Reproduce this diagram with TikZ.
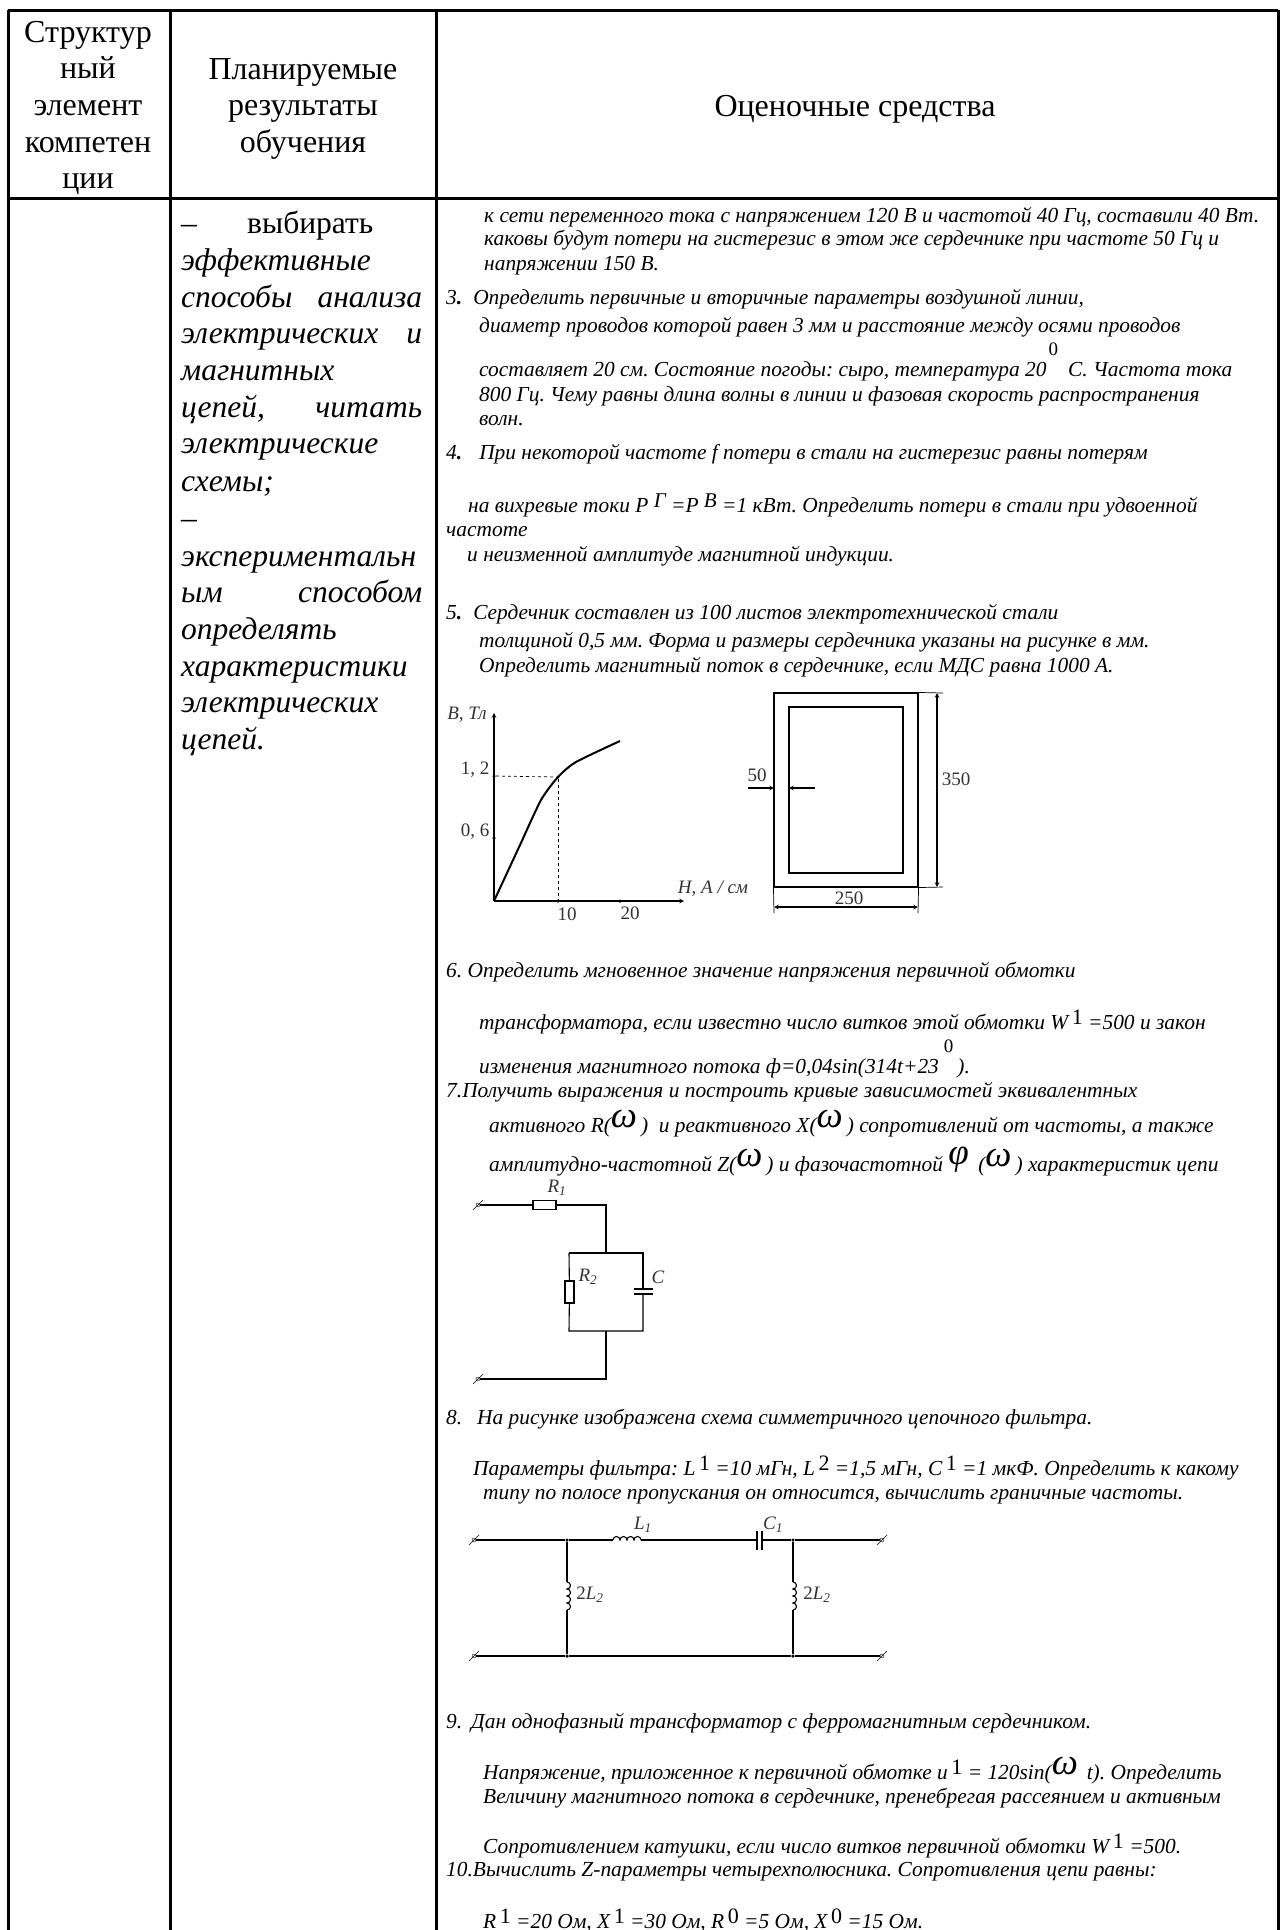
\documentclass[tikz,border=0pt]{standalone}
\usepackage{fontspec}
\setmainfont{Liberation Serif}
\usetikzlibrary{positioning}

\newcommand{\upidx}[1]{\raisebox{5pt}{\fontsize{22}{22}\selectfont\upshape #1}}
\newcommand{\itidx}[1]{\raisebox{5pt}{\fontsize{21}{22}\selectfont #1}}
\newcommand{\hiidx}[1]{\raisebox{21pt}{\fontsize{19}{19}\selectfont\upshape #1}}
\newcommand{\omg}{\raisebox{5pt}{\fontsize{37}{37}\selectfont ω}}
\newcommand{\fii}{\raisebox{7pt}{\fontsize{37}{37}\selectfont φ}}
\newcommand{\just}[2]{\hbox to 241pt{#1\hfill #2}}

\begin{document}
\frenchspacing
\begin{tikzpicture}[%
    x=1pt,
    y=1pt,
    >=stealth,
    rule/.style={line width=3pt},
    wire/.style={line width=1.1pt},
    thinw/.style={line width=0.7pt},
    bw/.style={anchor=base west},
    head/.style={anchor=base,inner sep=0pt,font=\fontsize{32}{32}\selectfont},
    skill/.style={bw,inner sep=0pt,font=\fontsize{31.5}{32}\selectfont\itshape},
    task/.style={bw,inner sep=0pt,font=\fontsize{21.4}{22}\selectfont\itshape},
    lab/.style={inner sep=0pt,text=black!80,font=\fontsize{19}{20}\selectfont},
    dot/.style={circle,fill,inner sep=0pt,minimum size=3.5pt},
    term/.style={circle,draw,thin,inner sep=0pt,minimum size=4pt},
    res/.style={rectangle,draw,line width=1.1pt,fill=white,inner sep=0pt}
  ]
    \useasboundingbox (0,0) rectangle (1280,-1930);
    \fill[white] (0,0) rectangle (1280,-1930);

    \coordinate (tl) at (8,-10);
    \coordinate (tc1) at (170,-10);
    \coordinate (tc2) at (436,-10);
    \coordinate (tr) at (1278,-10);
    \coordinate (ml) at (8,-198);
    \coordinate (mr) at (1278,-198);
    \coordinate (bl) at (8,-1930);
    \coordinate (bc1) at (170,-1930);
    \coordinate (bc2) at (436,-1930);
    \coordinate (br) at (1278,-1930);
    \draw[rule] (tl) -- (tr);
    \draw[rule] (ml) -- (mr);
    \draw[rule] (tl) -- (bl);
    \draw[rule] (tc1) -- (bc1);
    \draw[rule] (tc2) -- (bc2);
    \draw[rule] (tr) -- (br);

    \node[head] (h1) at (88,-42)            {Структур};
    \node[head] (h2) [below=36.7pt of h1.base,anchor=base] {ный};
    \node[head] (h3) [below=36.7pt of h2.base,anchor=base] {элемент};
    \node[head] (h4) [below=36.7pt of h3.base,anchor=base] {компетен};
    \node[head] (h5) [below=36.7pt of h4.base,anchor=base] {ции};
    \node[head] (p1) at (303,-79)           {Планируемые};
    \node[head] (p2) [below=36.7pt of p1.base,anchor=base] {результаты};
    \node[head] (p3) [below=36.7pt of p2.base,anchor=base] {обучения};
    \node[head] (o1) at (855,-116)          {Оценочные средства};

    \node[skill] (s1) at (181,-233)         {\just{\upshape –}{выбирать\hspace{49pt}}};
    \node[skill] (s2) [below=37pt of s1.base west,bw]  {эффективные};
    \node[skill] (s3) [below=37pt of s2.base west,bw]  {\just{способы}{анализа}};
    \node[skill] (s4) [below=36pt of s3.base west,bw]  {\just{электрических}{и}};
    \node[skill] (s5) [below=37pt of s4.base west,bw]  {магнитных};
    \node[skill] (s6) [below=37pt of s5.base west,bw]  {\just{цепей,}{читать}};
    \node[skill] (s7) [below=36pt of s6.base west,bw]  {электрические};
    \node[skill] (s8) [below=38pt of s7.base west,bw]  {схемы;};
    \node[skill] (s9) [below=37pt of s8.base west,bw]  {\upshape –};
    \node[skill] (s10) [below=38pt of s9.base west,bw] {экспериментальн};
    \node[skill] (s11) [below=36pt of s10.base west,bw] {\just{ым}{способом}};
    \node[skill] (s12) [below=37pt of s11.base west,bw] {определять};
    \node[skill] (s13) [below=37pt of s12.base west,bw] {характеристики};
    \node[skill] (s14) [below=36pt of s13.base west,bw] {электрических};
    \node[skill] (s15) [below=37pt of s14.base west,bw] {цепей.};

    \node[task] (a1) at (484,-222)          {к сети переменного тока с напряжением 120 В и частотой 40 Гц, составили 40 Вт.};
    \node[task] (a2) [below=23pt of a1.base west,bw]  {каковы будут потери на гистерезис в этом же сердечнике при частоте 50 Гц и};
    \node[task] (a3) [below=25pt of a2.base west,bw]  {напряжении 150 В.};
    \node[task] (b1) at (446,-304)          {3\textbf{.}\hspace{11pt}Определить первичные и вторичные параметры воздушной линии,};
    \node[task] (b2) [below right=28pt and 33pt of b1.base west,bw] {диаметр проводов которой равен 3 мм и расстояние между осями проводов};
    \node[task] (b3) [below=44pt of b2.base west,bw]  {составляет 20 см. Состояние погоды: сыро, температура 20\hspace{2pt}\hiidx{0}\hspace{10pt}С. Частота тока};
    \node[task] (b4) [below=25pt of b3.base west,bw]  {800 Гц. Чему равны длина волны в линии и фазовая скорость распространения};
    \node[task] (b5) [below=24pt of b4.base west,bw]  {волн.};
    \node[task] (c1) at (446,-459)          {4\textbf{.}\hspace{17pt}При некоторой частоте f потери в стали на гистерезис равны потерям};
    \node[task] (c2) [below right=53pt and 22pt of c1.base west,bw] {на вихревые токи P \itidx{Г} =P \itidx{В} =1 кВт. Определить потери в стали при удвоенной};
    \node[task] (c3) [below=24pt of c1.base west,yshift=-53pt,bw] {частоте};
    \node[task] (c4) [below right=49pt and 21pt of c2.base west,xshift=-22pt,bw] {и неизменной амплитуде магнитной индукции.};
    \node[task] (d1) at (446,-619)          {5\textbf{.}\hspace{11pt}Сердечник составлен из 100 листов электротехнической стали};
    \node[task] (d2) [below right=28pt and 33pt of d1.base west,bw] {толщиной 0,5 мм. Форма и размеры сердечника указаны на рисунке в мм.};
    \node[task] (d3) [below=25pt of d2.base west,bw]  {Определить магнитный поток в сердечнике, если МДС равна 1000 А.};

    \coordinate (or) at (494,-901);
    \coordinate (ytop) at (494,-713);
    \coordinate (xend) at (684,-901);
    \node[dot] (t12) at (494,-776) {};
    \node[dot] (t06) at (494,-838) {};
    \node[dot] (t10) at (558,-901) {};
    \node[dot] (t20) at (620,-901) {};
    \node[dot,minimum size=3pt] (pk) at (558,-777) {};
    \coordinate (cv1) at (520,-845);
    \coordinate (cv2) at (541,-800);
    \coordinate (cv3) at (576,-762);
    \coordinate (cv4) at (620,-741);
    \draw[wire,->] (or) -- (ytop);
    \draw[wire,->] (or) -- (xend);
    \draw[thinw,dashed] (t12) -- (pk);
    \draw[thinw,dashed] (pk) -- (t10);
    \draw[line width=2pt] plot[smooth,tension=0.4] coordinates {(or) (cv1) (cv2) (pk) (cv3) (cv4)};
    \node[lab] (lb) at (467,-715)  {\itshape B, Тл};
    \node[lab] (lv12) at (475,-770) {1, 2};
    \node[lab] (lv06) at (475,-832) {0, 6};
    \node[lab] (lh) at (713,-889)  {\itshape H, A / см};
    \node[lab] (lv10) at (567,-914) {10};
    \node[lab] (lv20) at (630,-913) {20};

    \node[draw,wire,inner sep=0pt,minimum width=144pt,minimum height=194pt] (core) at (846,-790) {};
    \node[draw,wire,inner sep=0pt,minimum width=114pt,minimum height=166pt] (wind) at (846,-790) {};
    \coordinate (e1) at (943,-693);
    \coordinate (e2) at (943,-887);
    \coordinate (e3) at (774,-913);
    \coordinate (e4) at (918,-913);
    \coordinate (d350a) at (937,-693);
    \coordinate (d350b) at (937,-887);
    \coordinate (d250a) at (774,-907);
    \coordinate (d250b) at (918,-907);
    \coordinate (d50a) at (748,-788);
    \coordinate (d50b) at (774,-788);
    \coordinate (d50c) at (815,-788);
    \coordinate (d50d) at (789,-788);
    \draw[thinw] (core.north east) -- (e1);
    \draw[thinw] (core.south east) -- (e2);
    \draw[thinw] (core.south west) -- (e3);
    \draw[thinw] (core.south east) -- (e4);
    \draw[wire,<->] (d350a) -- (d350b);
    \draw[wire,<->] (d250a) -- (d250b);
    \draw[wire,->] (d50a) -- (d50b);
    \draw[wire,->] (d50c) -- (d50d);
    \node[lab] (l350) at (956,-779) {350};
    \node[lab] (l250) at (849,-898) {250};
    \node[lab] (l50) at (757,-775) {50};

    \node[task] (e1t) at (446,-977)         {6. Определить мгновенное значение напряжения первичной обмотки};
    \node[task] (e2t) [below right=52pt and 33pt of e1t.base west,bw] {трансформатора, если известно число витков этой обмотки W\,\upidx{1} =500 и закон};
    \node[task] (e3t) [below=44pt of e2t.base west,bw] {изменения магнитного потока ф=0,04sin(314t+23\hspace{5pt}\hiidx{0}\hspace{4pt}).};
    \node[task] (f1) at (446,-1097)         {7.Получить выражения и построить кривые зависимостей эквивалентных};
    \node[task] (f2) [below right=35pt and 43pt of f1.base west,bw] {активного R(\omg\hspace{4pt})\ \ и реактивного X(\omg\hspace{4pt}) сопротивлений от частоты, а также};
    \node[task] (f3) [below=39pt of f2.base west,bw] {амплитудно-частотной Z(\omg\hspace{4pt}) и фазочастотной \fii\hspace{4pt} (\omg\hspace{4pt}) характеристик цепи};

    \node[term] (ta) at (478,-1205) {};
    \node[term] (tb) at (478,-1379) {};
    \node[res,minimum width=23pt,minimum height=9pt] (r1) at (544.5,-1205) {};
    \coordinate (ca) at (606,-1205);
    \coordinate (cb) at (606,-1253);
    \coordinate (cc) at (569,-1253);
    \coordinate (cd) at (643,-1253);
    \coordinate (ce) at (569,-1331);
    \coordinate (cf) at (643,-1331);
    \coordinate (cg) at (606,-1331);
    \coordinate (ch) at (606,-1379);
    \node[res,minimum width=9pt,minimum height=22pt] (r2) at (569.5,-1292) {};
    \coordinate (cp1) at (643,-1289);
    \coordinate (cp2) at (643,-1294);
    \coordinate (cp1a) at (634,-1289);
    \coordinate (cp1b) at (653,-1289);
    \coordinate (cp2a) at (634,-1294);
    \coordinate (cp2b) at (653,-1294);
    \draw[wire] (ta) -- (r1);
    \draw[wire] (r1) -- (ca) -- (cb);
    \draw[wire] (cc) -- (cd) -- (cp1);
    \draw[wire] (cp2) -- (cf) -- (ce) -- (r2);
    \draw[wire] (r2) -- (cc);
    \draw[wire] (cg) -- (ch) -- (tb);
    \draw[wire] (cp1a) -- (cp1b);
    \draw[wire] (cp2a) -- (cp2b);
    \node[lab] (lr1) at (557,-1188) {\itshape R\textsubscript{1}};
    \node[lab] (lr2) at (588,-1277) {\itshape R\textsubscript{2}};
    \node[lab] (lc) at (658,-1277) {\itshape C};

    \node[task] (g1) at (446,-1424)         {8.\hspace{15pt}На рисунке изображена схема симметричного цепочного фильтра.};
    \node[task] (g2) [below right=51pt and 27pt of g1.base west,bw] {Параметры фильтра: L\,\upidx{1} =10 мГн, L\,\upidx{2} =1,5 мГн, C\,\upidx{1} =1 мкФ. Определить к какому};
    \node[task] (g3) [below right=24pt and 10pt of g2.base west,bw] {типу по полосе пропускания он относится, вычислить граничные частоты.};

    \node[term] (ua) at (474,-1540) {};
    \node[term] (ub) at (882,-1540) {};
    \node[term] (uc) at (474,-1656) {};
    \node[term] (ud) at (882,-1656) {};
    \node[dot] (j1) at (567,-1540) {};
    \node[dot] (j2) at (793,-1540) {};
    \node[dot] (j3) at (567,-1656) {};
    \node[dot] (j4) at (793,-1656) {};
    \coordinate (k1) at (613,-1540);
    \coordinate (k2) at (641,-1540);
    \coordinate (c1a) at (757,-1540);
    \coordinate (c1b) at (762,-1540);
    \coordinate (c1c) at (757,-1531);
    \coordinate (c1d) at (757,-1550);
    \coordinate (c1e) at (762,-1531);
    \coordinate (c1f) at (762,-1550);
    \coordinate (k3) at (567,-1582);
    \coordinate (k4) at (567,-1610);
    \coordinate (k5) at (793,-1582);
    \coordinate (k6) at (793,-1610);
    \draw[wire] (ua) -- (j1) -- (k1);
    \draw[wire] (k1) arc (180:0:3.5) arc (180:0:3.5) arc (180:0:3.5) arc (180:0:3.5);
    \draw[wire] (k2) -- (c1a);
    \draw[wire] (c1b) -- (j2) -- (ub);
    \draw[wire] (c1c) -- (c1d);
    \draw[wire] (c1e) -- (c1f);
    \draw[wire] (uc) -- (j3) -- (j4) -- (ud);
    \draw[wire] (j1) -- (k3);
    \draw[wire] (k3) arc (90:-90:3.5) arc (90:-90:3.5) arc (90:-90:3.5) arc (90:-90:3.5);
    \draw[wire] (k4) -- (j3);
    \draw[wire] (j2) -- (k5);
    \draw[wire] (k5) arc (90:-90:3.5) arc (90:-90:3.5) arc (90:-90:3.5) arc (90:-90:3.5);
    \draw[wire] (k6) -- (j4);
    \node[lab] (ll1) at (643,-1525) {\itshape L\textsubscript{1}};
    \node[lab] (lc1) at (773,-1525) {\itshape C\textsubscript{1}};
    \node[lab] (ll2) at (590,-1595) {2\itshape L\textsubscript{2}};
    \node[lab] (ll3) at (817,-1595) {2\itshape L\textsubscript{2}};

    \foreach \t in {ta,tb,ua,ub,uc,ud}
      \draw[thin] ([shift={(-5,-5)}]\t.center) -- ([shift={(5,5)}]\t.center);

    \node[task] (m1) at (446,-1728)         {9.\hspace{9pt}Дан однофазный трансформатор с ферромагнитным сердечником.};
    \node[task] (m2) [below right=51pt and 37pt of m1.base west,bw] {Напряжение, приложенное к первичной обмотке u\,\upidx{1} = 120sin(\omg\, t). Определить};
    \node[task] (m3) [below=24pt of m2.base west,bw] {Величину магнитного потока в сердечнике, пренебрегая рассеянием и активным};
    \node[task] (m4) [below=50pt of m3.base west,bw] {Сопротивлением катушки, если число витков первичной обмотки W\,\upidx{1} =500.};
    \node[task] (n1) at (446,-1876)         {10.Вычислить Z-параметры четырехполюсника. Сопротивления цепи равны:};
    \node[task] (n2) [below right=52pt and 37pt of n1.base west,bw] {R\,\upidx{1} =20 Ом, X\,\upidx{1} =30 Ом, R\,\upidx{0} =5 Ом, X\,\upidx{0} =15 Ом.};
\end{tikzpicture}
\end{document}
